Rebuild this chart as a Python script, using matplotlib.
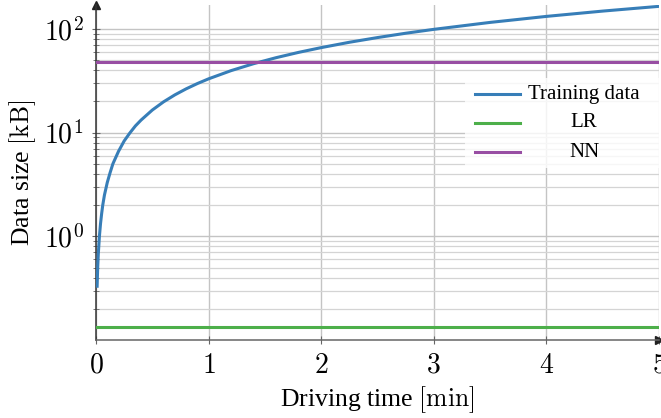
import numpy as np
import matplotlib.pyplot as plt
from matplotlib.patches import Rectangle
from matplotlib.ticker import FixedLocator, LogLocator, NullFormatter

plt.rcParams['font.family'] = ['Liberation Serif', 'DejaVu Serif']
plt.rcParams['mathtext.fontset'] = 'cm'

#%% data
time_min = [0.01, 0.015, 0.02, 0.03, 0.04, 0.05, 0.06, 0.075, 0.1, 0.125, 0.15,
            0.2, 0.25, 0.3, 0.35, 0.4, 0.5, 0.6, 0.7, 0.8, 0.9, 1.0, 1.2,
            1.4, 1.6, 1.8, 2.0, 2.25, 2.5, 2.75, 3.0, 3.5, 4.0, 4.5, 5.0]
train_kb = [0.33, 0.5, 0.66, 0.99, 1.32, 1.65, 2.0, 2.5, 3.3, 4.1, 5.0,
            6.6, 8.3, 9.9, 11.6, 13.2, 16.5, 19.8, 23.1, 26.4, 29.7, 33.0, 39.6,
            46.2, 52.8, 59.4, 66.0, 74.3, 82.5, 90.8, 99.0, 115.5, 132.0, 148.5, 165.0]
lr_kb = 0.132
nn_kb = 47.7
x_span = [0, 5]
x_ticks = [0, 1, 2, 3, 4, 5]
y_ticks = [1, 10, 100]
y_ticklabels = [r'$10^{0}$', r'$10^{1}$', r'$10^{2}$']
legend_labels = ['Training data', 'LR', 'NN']

c_blue, c_green, c_purple = '#377eb8', '#4daf4a', '#984ea3'

#%% figure
fig = plt.figure(figsize=(6.61, 4.18), dpi=100)
ax = fig.add_axes([96/661, 78/418, 563/661, 335/418])

ax.plot(time_min, train_kb, color=c_blue, lw=2.2, zorder=3)
ax.plot(x_span, [lr_kb, lr_kb], color=c_green, lw=2.2, zorder=3)
ax.plot(x_span, [nn_kb, nn_kb], color=c_purple, lw=2.2, zorder=3)

ax.set_yscale('log')
ax.set_xlim(0, 5)
ax.set_ylim(0.1, 170)

ax.xaxis.set_major_locator(FixedLocator(x_ticks))
ax.set_xticklabels([f'${t}$' for t in x_ticks])
ax.yaxis.set_major_locator(FixedLocator(y_ticks))
ax.set_yticklabels(y_ticklabels)
ax.yaxis.set_minor_locator(LogLocator(base=10, subs=np.arange(2, 10)))
ax.yaxis.set_minor_formatter(NullFormatter())

ax.grid(which='major', color='#c4c4c4', lw=1.0)
ax.grid(which='minor', axis='y', color='#d4d4d4', lw=0.9)
ax.set_axisbelow(True)

ax.tick_params(which='major', direction='inout', length=6, width=0.8,
               color='#666666', labelsize=20, pad=6)
ax.tick_params(which='minor', direction='inout', length=5, width=0.7,
               color='#777777')
ax.tick_params(axis='x', pad=7)

for s in ['top', 'right']:
    ax.spines[s].set_visible(False)
ax.spines['left'].set_color('#333333')
ax.spines['bottom'].set_color('#666666')
for s in ['left', 'bottom']:
    ax.spines[s].set_linewidth(1.1)
ax.plot(1, 0, '>', color='#222222', ms=6, transform=ax.transAxes, clip_on=False)
ax.plot(0, 1, '^', color='#222222', ms=6, transform=ax.transAxes, clip_on=False)

ax.set_xlabel(r'Driving time $[\mathrm{min}]$', fontsize=18.5, labelpad=4)
ax.set_ylabel(r'Data size $[\mathrm{kB}]$', fontsize=18.5, labelpad=4)

#%% legend (centered entries)
ax.add_patch(Rectangle((0.655, 0.513), 0.345, 0.27, transform=ax.transAxes,
                       facecolor='white', edgecolor='none', alpha=0.8, zorder=4))
rows = [0.734, 0.648, 0.561]
for lab, col, yy in zip(legend_labels, [c_blue, c_green, c_purple], rows):
    ax.plot([0.673, 0.753], [yy, yy], color=col, lw=2.2,
            transform=ax.transAxes, zorder=5)
    ax.text(0.867, yy, lab, transform=ax.transAxes, ha='center', va='center',
            fontsize=15, zorder=6)

fig.savefig('out.png', dpi=100)
